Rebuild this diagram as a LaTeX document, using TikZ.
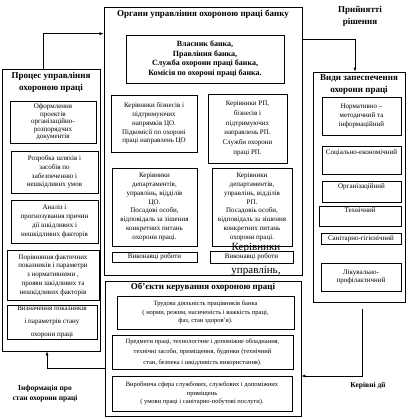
\documentclass[tikz,border=0pt]{standalone}
\usepackage{fontspec}
\setmainfont{Liberation Serif}
\usetikzlibrary{arrows.meta, positioning, calc}

\begin{document}
\begin{tikzpicture}[
      x=1pt, y=-1pt,
      frame/.style={draw, line width=0.7pt, inner sep=0pt},
      box/.style={draw, line width=0.6pt, align=center, inner sep=1pt,
        font=\fontsize{7}{8.8}\selectfont},
      lowbox/.style={box, font=\fontsize{6.5}{8.6}\selectfont},
      title/.style={align=center, inner sep=1pt,
        font=\fontsize{9}{12}\selectfont\bfseries},
      note/.style={align=center, inner sep=1pt,
        font=\fontsize{8}{10}\selectfont\bfseries},
      link/.style={-{Latex[length=4pt,width=3pt]}, line width=0.6pt}
    ]
      \useasboundingbox (0,0) rectangle (407,419);

      % bank bodies
      \node[frame, minimum width=198pt, minimum height=268pt] (organy) at (203,141) {};
      \node[title, below=2pt of organy.north] (organyTitle)
        {Органи управління охороною праці банку};
      \node[box, minimum width=158pt, minimum height=48pt,
        font=\fontsize{8}{9.6}\selectfont\bfseries] (vlasnyk) at (205,59)
        {Власник банка,\\Правління банка,\\Служба охорони праці банка,\\Комісія по охороні праці банка.};
      \node[box, minimum width=86pt, minimum height=57pt] (kerCO) at (154,123.5)
        {Керівники бізнесів і\\підтримуючих\\напрямків ЦО.\\Підкомісії по охороні\\праці  направлень ЦО};
      \node[box, minimum width=79pt, minimum height=69pt,
        font=\fontsize{7}{9.8}\selectfont] (kerRP) at (247.5,128.5)
        {Керівники РП,\\бізнесів і\\підтримуючих\\направлень РП.\\Служби охорони\\праці РП.};
      \node[box, minimum width=85pt, minimum height=78pt] (kerDepCO) at (154.5,207)
        {Керівники\\департаментів,\\управлінь, відділів\\ЦО.\\Посадові особи,\\відповідаль за зішення\\конкретних питань\\охорони праці.};
      \node[box, minimum width=80pt, minimum height=78pt] (kerDepRP) at (252,207)
        {Керівники\\департаментів,\\управлінь, відділів\\РП.\\Посадовіь особи,\\відповідаль за зішення\\конкретних питань\\охорони праці.};
      \node[box, minimum width=85pt, minimum height=10pt, inner sep=0pt] (vykCO) at (154.5,257)
        {Виконавці роботи};
      \node[font=\fontsize{11}{13}\selectfont, inner sep=0pt] (kerOver) at (256,248) {Керівники};
      \node[font=\fontsize{11}{13}\selectfont, inner sep=0pt] (uprOver) at (256,271) {управлінь,};
      \node[box, fill=white, minimum width=83pt, minimum height=12pt, inner sep=0pt,
        text depth=3pt] (vykRP) at (251.5,257) {Виконавці роботи};

      % process
      \node[frame, minimum width=98pt, minimum height=282pt] (process) at (51,210) {};
      \node[title, below=2pt of process.north] (processTitle)
        {Процес управління\\охороною праці};
      \node[box, minimum width=86pt, minimum height=42pt,
        font=\fontsize{7}{7.6}\selectfont] (oform) at (53,122)
        {Оформлення\\проектів\\організаційно-\\розпорядчих\\документів};
      \node[box, minimum width=87pt, minimum height=42pt] (rozrob) at (54.5,172)
        {Розробка шляхів і\\засобів по\\забезпеченню і\\нешкідливих умов};
      \node[box, minimum width=87pt, minimum height=43pt] (analiz) at (54.5,221.5)
        {Аналіз і\\прогнозування причин\\дії шкідливих і\\нешкідливих факторів};
      \node[box, minimum width=92pt, minimum height=50pt] (porivn) at (53,275)
        {Порівняння фактичних\\показників і параметри\\з нормативними ,\\прояви шкідливих та\\нешкідливих факторів};
      \node[box, minimum width=90pt, minimum height=34pt,
        font=\fontsize{7}{13}\selectfont] (vyznach) at (52,322)
        {Визначення показників\\і параметрів стану\\охорони праці};

      % kinds of provision
      \node[frame, minimum width=92pt, minimum height=230pt] (vydy) at (359,187) {};
      \node[title, below=2pt of vydy.north] (vydyTitle)
        {Види запеспечення\\охорони праці};
      \node[box, minimum width=79pt, minimum height=38pt] (normat) at (361.5,116)
        {Нормативно –\\методичний та\\інформаційний};
      \node[box, minimum width=79pt, minimum height=28pt, text depth=15pt] (socek) at (361.5,160)
        {Соціально-економічний};
      \node[box, minimum width=79pt, minimum height=21pt, text depth=10pt] (orgn) at (361.5,191.5)
        {Організаційний};
      \node[box, minimum width=82pt, minimum height=20pt, text depth=12pt] (tekhn) at (360,216)
        {Технічний};
      \node[box, minimum width=80pt, minimum height=11pt, inner sep=0pt] (sanit) at (361,238.5)
        {Санітарно-гігієнічний};
      \node[box, minimum width=80pt, minimum height=28pt] (likuv) at (361,277)
        {Лікувально-\\профілактичний};

      % objects
      \node[frame, minimum width=196pt, minimum height=135pt] (obyekty) at (203,348.5) {};
      \node[title, below=1pt of obyekty.north] (obyektyTitle)
        {Об’єкти керування охороною праці};
      \node[lowbox, minimum width=177pt, minimum height=33pt] (trud) at (205.5,312.5)
        {Трудова діяльність працівників банка\\( норми, режим, насиченість і важкість праці,\\фаз, стан здоров’я).};
      \node[lowbox, minimum width=181pt, minimum height=34pt,
        font=\fontsize{6.5}{10.5}\selectfont] (predm) at (202.5,352)
        {Предмети праці, технологічне і допоміжне обладнання,\\технічні засоби, приміщення, будинки (технічний\\стан, безпека і шкідливість використання).};
      \node[lowbox, minimum width=180pt, minimum height=35pt] (vyrob) at (202,393.5)
        {Виробнича сфера службових, службових і допоміжних\\приміщень\\( умови праці і санітарно-побутові послуги).};

      % flow labels
      \node[note, font=\fontsize{9}{12}\selectfont\bfseries] (decision) at (360,16)
        {Прийнятті\\рішення};
      \node[note, font=\fontsize{7.5}{10}\selectfont\bfseries] (info) at (45,394)
        {Інформація про\\стан охорони праці};
      \node[note, font=\fontsize{7.5}{10}\selectfont\bfseries] (actions) at (368,386)
        {Керівні дії};

      % connectors
      \draw[link] ([xshift=-8pt]process.north) |- ([yshift=-27pt]organy.north west);
      \draw[link] ([yshift=-33pt]organy.north east) -| ([xshift=-4pt]vydy.north);
      \draw[link, shorten <=7pt] ([xshift=3pt]vydy.south) |- ([yshift=-27.5pt]obyekty.east);
      \draw[link] ([yshift=-20pt]obyekty.west) -| ([xshift=-4pt]process.south);
    \end{tikzpicture}
\end{document}
